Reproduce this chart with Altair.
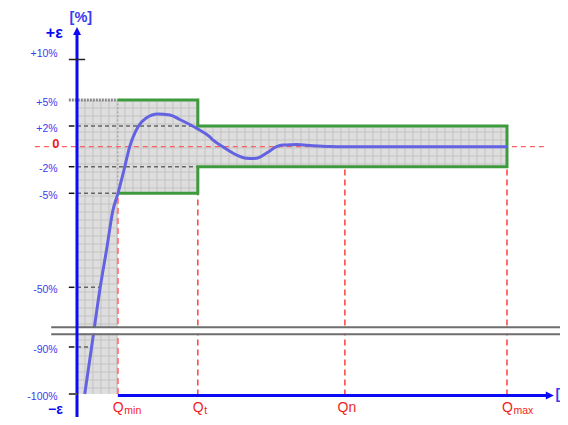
import altair as alt
import pandas as pd
import numpy as np

# ---------------- data ----------------
# characteristic flows (relative units, Qmax = 100)
Q_NAMES = ["Qmin", "Qt", "Qn", "Qmax"]
Q_VALUES = [9.5, 28.1, 62.3, 100.0]
QMIN, QT, QN, QMAX = Q_VALUES

# meter error curve: flow vs error [%]
curve_q = [1.8, 3.4, 5.4, 6.9, 8.37, 9.53, 10.7, 12.26, 14.2, 16.1, 18.8, 21.6,
           23.9, 28.1, 30.9, 31.6, 33.9, 37.1, 39.4, 40.9, 41.7, 44.0, 46.4, 47.8,
           49.5, 51.0, 54.8, 58.8, 62.3, 100.0]
curve_err = [-100, -90, -50, -31.7, -13.0, -5.0, -2.82, 0.0, 1.93, 2.92, 3.38, 3.27,
             2.75, 1.71, 0.94, 0.65, 0.0, -0.83, -1.16, -1.18, -1.16, -0.66, 0.0, 0.16,
             0.18, 0.21, 0.10, 0.02, 0.0, 0.0]

# tolerance band (maximum permissible error) per flow zone
band_x = [0.0, QMIN, QT]
band_x2 = [QMIN, QT, QMAX]
band_lo = [-100, -5, -2]
band_hi = [5, 5, 2]

# y-axis tick values and labels (non-linear, schematic axis)
ytick_vals = [10, 5, 2, 0, -2, -5, -50, -90, -100]
ytick_text = ["+10%", "+5%", "+2%", "0", "-2%", "-5%", "-50%", "-90%", "-100%"]

# ---------------- scales (piecewise schematic y axis) ----------------
Y_DOMAIN = [-100, -90, -50, -5, -2, 0, 2, 5, 10, 15]
Y_RANGE = [374, 327, 267.3, 173.3, 146.7, 126.7, 106, 80, 39.5, 7]
W, H = 480, 375
X_MAX = 111.63

xscale = alt.Scale(domain=[0, X_MAX], range=[0, W], zero=False, nice=False)
yscale = alt.Scale(domain=Y_DOMAIN, range=Y_RANGE, zero=False, nice=False)


def X(f):
    return alt.X(f, type="quantitative", scale=xscale, axis=None)


def Y(f):
    return alt.Y(f, type="quantitative", scale=yscale, axis=None)


def X2(f):
    return alt.X2(f)


def Y2(f):
    return alt.Y2(f)


FONT = "Liberation Sans"
BLUE = "#0a0af5"
LBLUE = "#3b3bf0"
RED = "#f01e1e"
layers = []

# shaded tolerance band
band_df = pd.DataFrame({"x": band_x, "x2": band_x2, "y": band_lo, "y2": band_hi})
layers.append(alt.Chart(band_df).mark_rect(color="#dedede").encode(
    x=X("x"), x2=X2("x2"), y=Y("y"), y2=Y2("y2")))

# grid texture inside the band
def zone_limits(q):
    for a, b, lo, hi in zip(band_x, band_x2, band_lo, band_hi):
        if a <= q < b:
            return lo, hi
    return None

vq = np.arange(1, 60) * (8 / W * X_MAX)
vrows = []
for q in vq:
    lim = zone_limits(q)
    if lim:
        vrows.append({"x": q, "y": lim[0], "y2": lim[1]})
layers.append(alt.Chart(pd.DataFrame(vrows)).mark_rule(color="#c3c3c3", strokeWidth=1).encode(
    x=X("x"), y=Y("y"), y2=Y2("y2")))

rel = np.arange(80 + 8, 374, 8)
pct = np.interp(rel, Y_RANGE[::-1], Y_DOMAIN[::-1])
hrows = []
for p in pct:
    x2 = QMAX if -2 < p < 2 else (QT if -5 < p < 5 else QMIN)
    hrows.append({"x": 0.0, "x2": x2, "y": p})
layers.append(alt.Chart(pd.DataFrame(hrows)).mark_rule(color="#c3c3c3", strokeWidth=1).encode(
    x=X("x"), x2=X2("x2"), y=Y("y")))

# gray dashed reference lines from the axis
ref_df = pd.DataFrame({"x": [0, 0, 0, 0, 0], "x2": [QT, QT, QMIN, 5.4, 3.4],
                       "y": [2, -2, -5, -50, -90]})
layers.append(alt.Chart(ref_df).mark_rule(color="#666666", strokeWidth=1.5, strokeDash=[4, 3]).encode(
    x=X("x"), x2=X2("x2"), y=Y("y")))

# +5% top edge at the start (dotted gray)
layers.append(alt.Chart(pd.DataFrame({"x": [-1.9], "x2": [QMIN], "y": [5]})).mark_rule(
    color="#8a8a8a", strokeWidth=3, strokeDash=[2, 1]).encode(x=X("x"), x2=X2("x2"), y=Y("y")))
# Qmin dotted inside band
layers.append(alt.Chart(pd.DataFrame({"x": [QMIN], "y": [-5], "y2": [5]})).mark_rule(
    color="#999999", strokeWidth=1, strokeDash=[2, 2]).encode(x=X("x"), y=Y("y"), y2=Y2("y2")))
# Qmin red dashed below -5%
layers.append(alt.Chart(pd.DataFrame({"x": [QMIN], "y": [-100], "y2": [-5]})).mark_rule(
    color="#ff7a7a", strokeWidth=2, strokeDash=[6, 4]).encode(x=X("x"), y=Y("y"), y2=Y2("y2")))
# red dashed verticals for Qt, Qn, Qmax
vred = pd.DataFrame({"x": [QT, QN, QMAX], "y": [-100.3, -100.3, -100.3], "y2": [-5, -2, -2]})
layers.append(alt.Chart(vred).mark_rule(color="#ff4040", strokeWidth=1.5, strokeDash=[6, 4]).encode(
    x=X("x"), y=Y("y"), y2=Y2("y2")))
# red zero line
layers.append(alt.Chart(pd.DataFrame({"x": [-9.8], "x2": [109.2], "y": [0]})).mark_rule(
    color="#ff6060", strokeWidth=1.2, strokeDash=[5, 4]).encode(x=X("x"), x2=X2("x2"), y=Y("y")))

# green tolerance limits
green = pd.DataFrame({
    "x": [QMIN, QT, QT, QMAX, QMAX, QT, QT, QMIN],
    "y": [5, 5, 2, 2, -2, -2, -5, -5],
    "o": list(range(8))})
layers.append(alt.Chart(green).mark_line(color="#3d9a3d", strokeWidth=3, strokeJoin="miter").encode(
    x=X("x"), y=Y("y"), order="o:Q"))

# error curve
curve_df = pd.DataFrame({"q": curve_q, "e": curve_err})
layers.append(alt.Chart(curve_df).mark_line(color="#6262e2", strokeWidth=3, interpolate="monotone").encode(
    x=X("q"), y=Y("e")))

# axis break
layers.append(alt.Chart(pd.DataFrame({"x": [-6], "x2": [125], "y": [-77.3], "y2": [-80.9]})).mark_rect(
    color="white").encode(x=X("x"), x2=X2("x2"), y=Y("y"), y2=Y2("y2")))
layers.append(alt.Chart(pd.DataFrame({"x": [-6, -6], "x2": [125, 125], "y": [-76.8, -81.4]})).mark_rule(
    color="#6e6e6e", strokeWidth=2).encode(x=X("x"), x2=X2("x2"), y=Y("y")))

# axes
layers.append(alt.Chart(pd.DataFrame({"x": [0], "y": [-106.8], "y2": [14]})).mark_rule(
    color=BLUE, strokeWidth=3).encode(x=X("x"), y=Y("y"), y2=Y2("y2")))
layers.append(alt.Chart(pd.DataFrame({"x": [QMIN], "x2": [109.8], "y": [-100.3]})).mark_rule(
    color=BLUE, strokeWidth=3).encode(x=X("x"), x2=X2("x2"), y=Y("y")))
layers.append(alt.Chart(pd.DataFrame({"x": [0], "y": [15]})).mark_point(
    shape="M0,0L-0.5,1L0.5,1Z", size=260, filled=True, opacity=1, color=BLUE).encode(x=X("x"), y=Y("y")))
layers.append(alt.Chart(pd.DataFrame({"x": [110.9], "y": [-100.3]})).mark_point(
    shape="M0,0L-1,-0.5L-1,0.5Z", size=260, filled=True, opacity=1, color=BLUE).encode(x=X("x"), y=Y("y")))

# ticks
layers.append(alt.Chart(pd.DataFrame({"x": [-1.9], "x2": [1.9], "y": [10]})).mark_rule(
    color="#222222", strokeWidth=1.5).encode(x=X("x"), x2=X2("x2"), y=Y("y")))
layers.append(alt.Chart(pd.DataFrame({"x": [-1.9] * 5, "x2": [-0.6] * 5, "y": [2, -2, -5, -50, -90]})).mark_rule(
    color="#111111", strokeWidth=1.5).encode(x=X("x"), x2=X2("x2"), y=Y("y")))
layers.append(alt.Chart(pd.DataFrame({"x": [-1.9], "x2": [0], "y": [-100]})).mark_rule(
    color="#555555", strokeWidth=2).encode(x=X("x"), x2=X2("x2"), y=Y("y")))

# y tick labels
for v, t in zip(ytick_vals, ytick_text):
    if t == "0":
        layers.append(alt.Chart(pd.DataFrame({"x": [-4.9], "y": [v], "t": [t]})).mark_text(
            font=FONT, fontSize=13, fontWeight="bold", color=RED, align="center", baseline="middle",
            dy=-3).encode(x=X("x"), y=Y("y"), text="t:N"))
    else:
        dy = -6 if v == 10 else 2.5
        layers.append(alt.Chart(pd.DataFrame({"x": [-4.5], "y": [v], "t": [t]})).mark_text(
            font=FONT, fontSize=10.5, color=LBLUE, align="right", baseline="middle",
            dy=dy).encode(x=X("x"), y=Y("y"), text="t:N"))

# axis titles
layers.append(alt.Chart(pd.DataFrame({"x": [0.9], "y": [15], "t": ["[%]"]})).mark_text(
    font=FONT, fontSize=14.5, fontWeight="bold", color=LBLUE, align="center", baseline="middle",
    dy=-9).encode(x=X("x"), y=Y("y"), text="t:N"))
layers.append(alt.Chart(pd.DataFrame({"x": [-3.3], "y": [15], "t": ["+ε"]})).mark_text(
    font=FONT, fontSize=16, fontWeight="bold", color=BLUE, align="right", baseline="middle",
    dy=6).encode(x=X("x"), y=Y("y"), text="t:N"))
layers.append(alt.Chart(pd.DataFrame({"x": [-3.3], "y": [-100], "t": ["−ε"]})).mark_text(
    font=FONT, fontSize=14, fontWeight="bold", color=BLUE, align="right", baseline="middle",
    dy=16).encode(x=X("x"), y=Y("y"), text="t:N"))
layers.append(alt.Chart(pd.DataFrame({"x": [111.3], "y": [-100], "t": ["["]})).mark_text(
    font=FONT, fontSize=14, fontWeight="bold", color=LBLUE, align="left", baseline="middle",
    dy=1).encode(x=X("x"), y=Y("y"), text="t:N"))

# flow labels (Q with subscripts)
q_main = pd.DataFrame({"x": [QMIN, QT, QMAX], "t": ["Q", "Q", "Q"], "y": [-100] * 3})
layers.append(alt.Chart(q_main).mark_text(
    font=FONT, fontSize=14, color=RED, align="left", baseline="middle", dx=-5, dy=14).encode(
    x=X("x"), y=Y("y"), text="t:N"))
q_sub = pd.DataFrame({"x": [QMIN, QT, QMAX], "t": ["min", "t", "max"], "y": [-100] * 3})
layers.append(alt.Chart(q_sub).mark_text(
    font=FONT, fontSize=10.5, color=RED, align="left", baseline="middle", dx=6.5, dy=17).encode(
    x=X("x"), y=Y("y"), text="t:N"))
layers.append(alt.Chart(pd.DataFrame({"x": [QN], "t": ["Qn"], "y": [-100]})).mark_text(
    font=FONT, fontSize=14, color=RED, align="center", baseline="middle", dx=2, dy=14).encode(
    x=X("x"), y=Y("y"), text="t:N"))

chart = alt.layer(*layers).properties(
    width=W, height=H,
    padding={"left": 69, "top": 12, "right": 3, "bottom": 22},
    autosize=alt.AutoSizeParams(type="none"),
    background="white",
).configure_view(stroke=None)

chart.save("out.html", embed_options={"renderer": "svg", "actions": False})
